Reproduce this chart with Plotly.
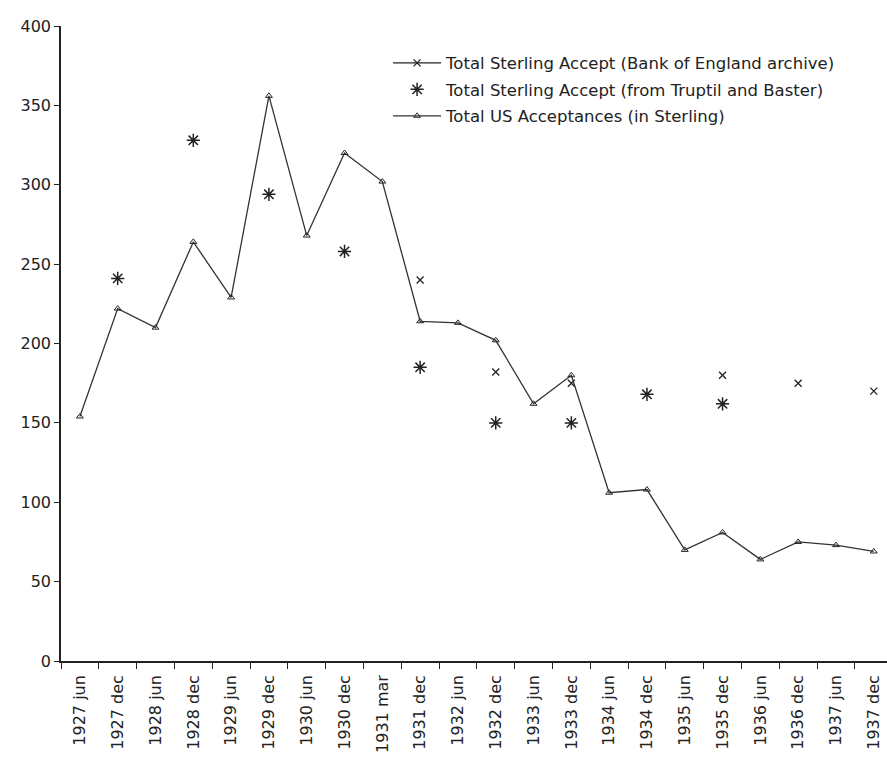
import plotly.graph_objects as go

categories = ["1927 jun", "1927 dec", "1928 jun", "1928 dec", "1929 jun", "1929 dec",
              "1930 jun", "1930 dec", "1931 mar", "1931 dec", "1932 jun", "1932 dec",
              "1933 jun", "1933 dec", "1934 jun", "1934 dec", "1935 jun", "1935 dec",
              "1936 jun", "1936 dec", "1937 jun", "1937 dec"]

boe_archive = [None, None, None, None, None, None,
               None, None, None, 240, None, 182,
               None, 175, None, None, None, 180,
               None, 175, None, 170]

truptil_baster = [None, 241, None, 328, None, 294,
                  None, 258, None, 185, None, 150,
                  None, 150, None, 168, None, 162,
                  None, None, None, None]

us_acceptances = [154, 222, 210, 264, 229, 356,
                  268, 320, 302, 214, 213, 202,
                  162, 180, 106, 108, 70, 81,
                  64, 75, 73, 69]

FONT = "DejaVu Sans"
fig = go.Figure()

fig.add_trace(go.Scatter(
    x=categories, y=boe_archive, mode="lines+markers",
    name="Total Sterling Accept (Bank of England archive)", legendgroup="a",
    line=dict(color="#222222", width=1.2), connectgaps=False,
    marker=dict(symbol="x-thin-open", size=7, color="#222222",
                line=dict(color="#222222", width=1.3)),
))
fig.add_trace(go.Scatter(
    x=categories, y=truptil_baster, mode="markers",
    name="Total Sterling Accept (from Truptil and Baster)", legendgroup="b",
    marker=dict(symbol="asterisk-open", size=11, color="#222222",
                line=dict(color="#222222", width=1.5)),
))
fig.add_trace(go.Scatter(
    x=categories, y=us_acceptances, mode="lines+markers",
    name="Total US Acceptances (in Sterling)", legendgroup="c",
    line=dict(color="#333333", width=1.3),
    marker=dict(symbol="triangle-up-open", size=6, color="#222222",
                line=dict(color="#222222", width=1)),
))

fig.update_layout(
    width=887, height=757,
    margin=dict(l=61, r=0, t=26, b=96),
    paper_bgcolor="white", plot_bgcolor="white",
    font=dict(family=FONT, size=16, color="#222222"),
    showlegend=True,
    legend=dict(x=0.396, y=0.969, xanchor="left", yanchor="top",
                bgcolor="rgba(0,0,0,0)", font=dict(family=FONT, size=16.5, color="#222222"),
                itemwidth=48, tracegroupgap=2),
    xaxis=dict(type="category", range=[-0.5, 21.35], showgrid=False,
               showline=True, linecolor="#222222", linewidth=1.5,
               ticks="outside", tickson="boundaries", ticklen=6, tickcolor="#222222",
               tickangle=-90, ticklabelstandoff=6,
               tickfont=dict(family=FONT, size=16, color="#222222")),
    yaxis=dict(range=[0, 400], dtick=50, showgrid=False, zeroline=False,
               showline=True, linecolor="#222222", linewidth=1.5,
               ticks="outside", ticklen=5, tickcolor="#222222", automargin=False,
               tickfont=dict(family=FONT, size=16, color="#222222")),
)

fig.write_html("out.html", config={"displayModeBar": False},
               post_script="document.body.style.margin='0px';")
